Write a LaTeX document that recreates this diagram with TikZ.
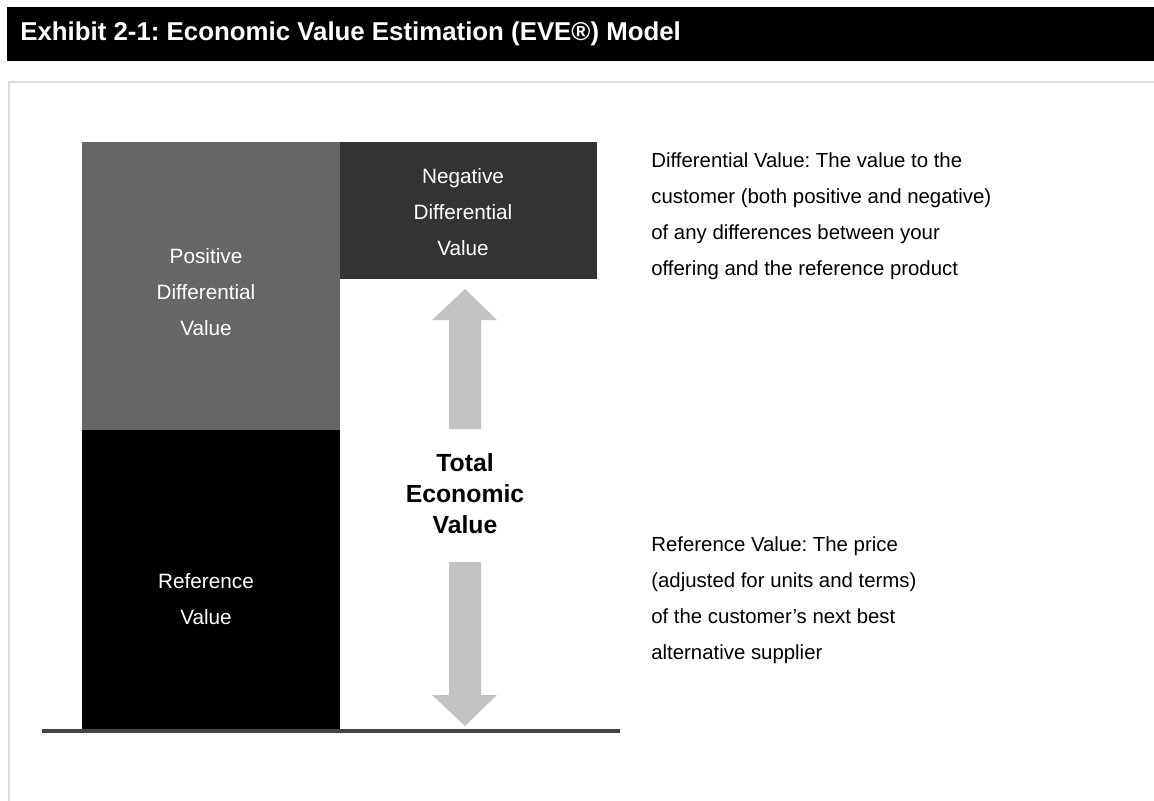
\documentclass[tikz,border=0pt]{standalone}
\usepackage{fontspec}
\setmainfont{Liberation Sans}
\usetikzlibrary{positioning}
\usepackage{xcolor}
\frenchspacing

\definecolor{posgray}{HTML}{666666}
\definecolor{neggray}{HTML}{333333}
\definecolor{arrowgray}{HTML}{C3C3C3}
\definecolor{framegray}{HTML}{DDDDDD}
\definecolor{axisgray}{HTML}{444444}

\begin{document}
\begin{tikzpicture}[x=0.02cm,y=-0.02cm,
  every node/.style={inner sep=0pt},
  boxlabel/.style={text=white,align=center,font=\fontsize{11.8}{20.4}\selectfont},
  note/.style={anchor=west,align=left,font=\fontsize{11.6}{20.4}\selectfont}]
\useasboundingbox (0,0) rectangle (1154,801);
% title bar
\fill[black] (7,7) rectangle (1154,61);
\node[anchor=west,text=white,font=\fontsize{14.7}{16}\selectfont\bfseries] (title) at (20,34)
  {Exhibit 2-1: Economic Value Estimation (EVE\textregistered) Model};
% frame
\draw[framegray,line width=1.7pt] (9,801) -- (9,82) -- (1154,82);
% stacked bars
\fill[posgray] (82,142) rectangle (340,430);
\fill[black] (82,430) rectangle (340,731);
\fill[neggray] (340,142) rectangle (597,279);
\draw[axisgray,line width=1.8pt] (42,731) -- (620,731);
\node[boxlabel] (pos) at (206,292) {Positive\\Differential\\Value};
\node[boxlabel] (neg) at (463,212) {Negative\\Differential\\Value};
\node[boxlabel] (ref) at (206,599) {Reference\\Value};
% arrows
\fill[arrowgray] (449,429) -- (449,320) -- (432,320) -- (465,289) -- (497,320) -- (481,320) -- (481,429) -- cycle;
\fill[arrowgray] (449,562) -- (449,695) -- (432,695) -- (465,726) -- (497,695) -- (481,695) -- (481,562) -- cycle;
\node[align=center,font=\fontsize{14.1}{17.6}\selectfont\bfseries] (tev) at (465,494) {Total\\Economic\\Value};
% notes
\node[note] (diffnote) at (651,216) {Differential Value: The value to the\\customer (both positive and negative)\\of any differences between your\\offering and the reference product};
\node[note] (refnote) at (651,600) {Reference Value: The price\\(adjusted for units and terms)\\of the customer's next best\\alternative supplier};
\end{tikzpicture}
\end{document}
